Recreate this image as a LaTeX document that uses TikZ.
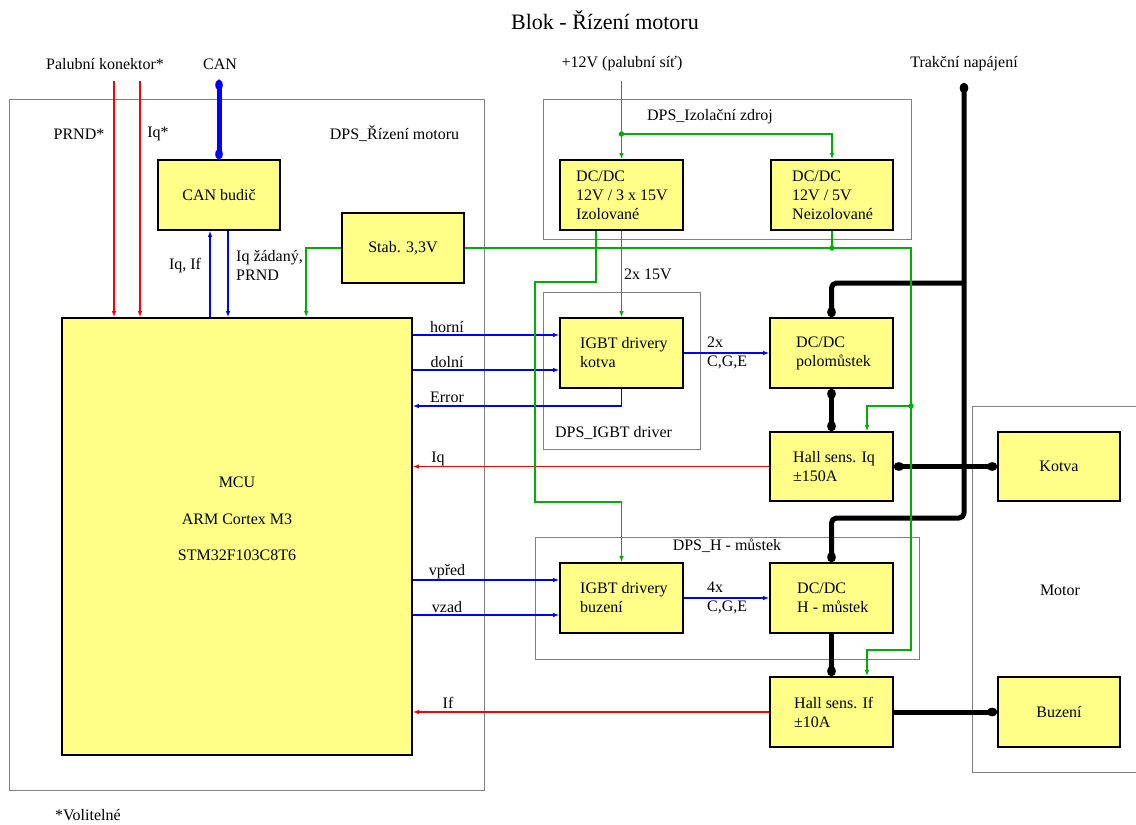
\documentclass[tikz,border=0pt]{standalone}
\usepackage{fontspec}
\setmainfont{Liberation Serif}
\usetikzlibrary{arrows.meta,calc}
\definecolor{boxy}{RGB}{255,255,136}
\definecolor{sgreen}{RGB}{0,176,0}
\definecolor{sred}{RGB}{255,0,0}
\definecolor{sblue}{RGB}{0,0,255}
\definecolor{frame}{RGB}{128,128,128}
\begin{document}
\begin{tikzpicture}[x=1pt,y=-1pt,
  font=\fontsize{16}{19}\selectfont,
  blk/.style={draw=black, line width=1.7pt, fill=boxy, inner sep=0pt, minimum width=123pt, minimum height=70pt},
  pcb/.style={draw=frame, line width=0.9pt, inner sep=0pt},
  txt/.style={inner sep=0pt, align=left},
  sig/.style={line width=1.7pt},
  rd/.style={sig, draw=sred},
  bl/.style={sig, draw=sblue},
  gr/.style={sig, draw=sgreen},
  pw/.style={line width=5pt, draw=black, rounded corners=5pt, line join=round},
  canbus/.style={line width=5pt, draw=sblue},
  arrs/.style={-{Latex[length=6pt,width=4.5pt]}},
  arrp/.style={-{Ellipse[length=10pt,width=8.5pt]}},
  arrpp/.style={{Ellipse[length=10pt,width=8.5pt]}-{Ellipse[length=10pt,width=8.5pt]}},
  dot/.style={circle, fill=sgreen, inner sep=0pt, minimum size=5.5pt}
]
\useasboundingbox (0,0) rectangle (1136,825);

% title
\node[font=\fontsize{22}{26}\selectfont, inner sep=0pt] (title) at (605,20) {Blok - Řízení motoru};

% frames
\node[pcb, minimum width=475pt, minimum height=691pt] (dpsmcu) at (246.5,444.5) {};
\node[pcb, minimum width=368pt, minimum height=140pt] (dpsiso) at (727,169) {};
\node[pcb, minimum width=157pt, minimum height=157pt] (dpsigbt) at (621.5,370.5) {};
\node[pcb, minimum width=384pt, minimum height=122pt] (dpsh) at (727,598) {};
\node[pcb, minimum width=170pt, minimum height=366pt] (motor) at (1057,589) {};

% blocks
\node[blk, minimum width=122pt] (can) at (219,195) {CAN budič};
\node[blk, minimum width=122pt] (stab) at (403,248) {Stab. 3,3V};
\node[blk, minimum width=350pt, minimum height=437pt] (mcu) at (237,536.5) {};
\node[blk] (iso) at (621.5,195) {};
\node[blk, minimum width=122pt] (dc5) at (832,195) {};
\node[blk] (igk) at (621.5,353) {};
\node[blk] (pol) at (831.5,353) {};
\node[blk, minimum height=69pt] (hiq) at (831.5,466.5) {};
\node[blk] (igb) at (621.5,598) {};
\node[blk] (hm) at (831.5,598) {};
\node[blk] (hif) at (831.5,712) {};
\node[blk, minimum width=122pt, minimum height=69pt] (kot) at (1059,466.5) {Kotva};
\node[blk, minimum width=122pt] (buz) at (1059,712) {Buzení};

% block texts
\node[txt, align=center] (mcu-t) at (237,519) {MCU\\[17.5pt]ARM Cortex M3\\[17.5pt]STM32F103C8T6};
\node[txt, anchor=west] (iso-t) at (576,195) {DC/DC\\12V / 3 x 15V\\Izolované};
\node[txt, anchor=west] (dc5-t) at (792,195) {DC/DC\\12V / 5V\\Neizolované};
\node[txt, anchor=west] (igk-t) at (580,353) {IGBT drivery\\kotva};
\node[txt, anchor=west] (pol-t) at (796,353) {DC/DC\\polomůstek};
\node[txt, anchor=west] (hiq-t) at (793,466.5) {Hall sens. Iq\\±150A};
\node[txt, anchor=west] (igb-t) at (580,598) {IGBT drivery\\buzení};
\node[txt, anchor=west] (hm-t) at (797,598) {DC/DC\\H - můstek};
\node[txt, anchor=west] (hif-t) at (794,712) {Hall sens. If\\±10A};

% frame / external labels
\node[txt] (l-pal) at (105,64) {Palubní konektor*};
\node[txt] (l-can) at (220,64) {CAN};
\node[txt] (l-12v) at (622,64) {+12V (palubní síť)};
\node[txt] (l-trak) at (964,64) {Trakční napájení};
\node[txt] (l-prnd) at (79,134) {PRND*};
\node[txt] (l-iqs) at (158,134) {Iq*};
\node[txt] (l-dpsmcu) at (394.5,134) {DPS\_Řízení motoru};
\node[txt] (l-dpsiso) at (710,117) {DPS\_Izolační zdroj};
\node[txt] (l-dpsigbt) at (613.5,433) {DPS\_IGBT driver};
\node[txt] (l-dpsh) at (727,546) {DPS\_H - můstek};
\node[txt] (l-motor) at (1060,590) {Motor};
\node[txt, anchor=west] (l-vol) at (55,815) {*Volitelné};

% thick power lines
\coordinate (trak) at (964,83);
\draw[pw, arrpp] (trak) -- (964,518) -| (hm.north);
\draw[pw, arrp] (964,283) -| (pol.north);
\draw[pw, arrpp] (pol.south) -- (hiq.north);
\draw[pw, arrpp] (hiq.east) -- (kot.west |- hiq.east);
\draw[pw, arrp] (hm.south) -- (hif.north);
\draw[pw, arrp] (hif.east) -- (buz.west);

% CAN bus
\coordinate (canin) at (219,80);
\draw[canbus, {Ellipse[length=10pt,width=7.5pt]}-{Ellipse[length=10pt,width=7.5pt]}] (canin) -- (can.north);

% red inputs
\coordinate (prnd) at (114,81);
\coordinate (iqs) at (140,81);
\draw[rd, arrs] (prnd) -- (prnd |- mcu.north);
\draw[rd, arrs] (iqs) -- (iqs |- mcu.north);

% CAN budic <-> MCU
\coordinate (cu) at ($(can.south)+(-9,0)$);
\coordinate (cd) at ($(can.south)+(9,0)$);
\draw[bl, arrs] (cu |- mcu.north) -- (cu);
\draw[bl, arrs] (cd) -- (cd |- mcu.north);
\node[txt] (l-iqif) at (185,266) {Iq, If};
\node[txt, anchor=west] (l-iqz) at (236,265) {Iq žádaný,\\PRND};

% MCU <-> IGBT drivers
\draw[bl, arrs] (mcu.east |- 0,335) -- (igk.west |- 0,335);
\draw[bl, arrs] (mcu.east |- 0,370) -- (igk.west |- 0,370);
\draw[bl, arrs] (igk.south) |- (mcu.east |- 0,406);
\draw[bl, arrs] (mcu.east |- 0,580) -- (igb.west |- 0,580);
\draw[bl, arrs] (mcu.east |- 0,615) -- (igb.west |- 0,615);
\draw[bl, arrs] (igk.east) -- (pol.west);
\draw[bl, arrs] (igb.east) -- (hm.west);
\node[txt] (l-horni) at (447,327) {horní};
\node[txt] (l-dolni) at (447,362) {dolní};
\node[txt] (l-err) at (447,397) {Error};
\node[txt] (l-vpred) at (447,572) {vpřed};
\node[txt] (l-vzad) at (447,607) {vzad};
\node[txt, anchor=west] (l-2x) at (707,353) {2x\\C,G,E};
\node[txt, anchor=west] (l-4x) at (707,598) {4x\\C,G,E};

% current feedback
\draw[rd, arrs] (hiq.west) -- (mcu.east |- hiq.west);
\draw[rd, arrs] (hif.west) -- (mcu.east |- hif.west);
\node[txt] (l-iq) at (438,459) {Iq};
\node[txt] (l-if) at (448,703) {If};

% green supply lines
\coordinate (v12) at (621.5,81);
\coordinate (j1) at (621.5,134);
\draw[gr, arrs] (v12) -- (iso.north);
\draw[gr, arrs] (j1) -| (dc5.north);
\coordinate (j2) at (832,248);
\coordinate (gr1) at (911,248);
\coordinate (j3) at (911,406);
\coordinate (hiqin) at ($(hiq.north)+(35.5,0)$);
\coordinate (hifin) at ($(hif.north)+(35.5,0)$);
\draw[gr] (dc5.south) -- (j2);
\draw[gr, arrs] (stab.east) -- (gr1) -- (911,650) -| (hifin);
\draw[gr, arrs] (j3) -| (hiqin);
\draw[gr, arrs] (stab.west) -| ($(mcu.north west)+(245,0)$);
\coordinate (iso1) at ($(iso.south)+(-25.5,0)$);
\draw[gr, arrs] (iso1) -- (596,282) -- (535,282) -- (535,502) -| (igb.north);
\draw[gr, arrs] (iso.south) -- (igk.north);
\node[txt, anchor=west] (l-2x15) at (624,274) {2x 15V};
\node[dot] (d1) at (j1) {};
\node[dot] (d2) at (j2) {};
\node[dot] (d3) at (j3) {};
\end{tikzpicture}
\end{document}
